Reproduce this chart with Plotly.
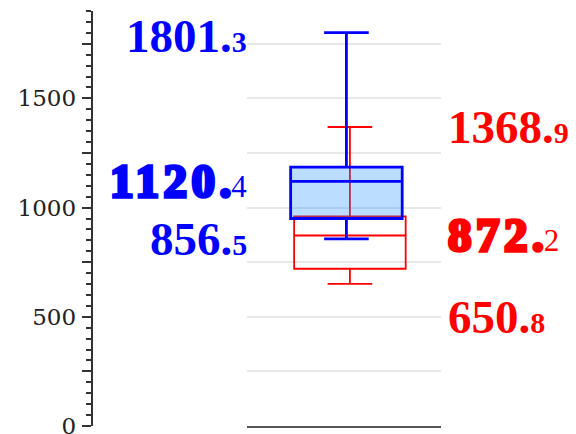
import plotly.graph_objects as go

# ---- data ----
series_names = ["A", "B"]
lowerfence = [856.5, 650.8]
q1 = [950.0, 720.0]
median = [1120.4, 872.2]
q3 = [1185.0, 960.0]
upperfence = [1801.3, 1368.9]
colors = ["#0000ff", "#ff0000"]
fills = ["rgba(30,144,255,0.3)", "rgba(0,0,0,0)"]

tick_vals = [0, 250, 500, 750, 1000, 1250, 1500, 1750]
tick_text = ["0", "", "500", "", "1000", "", "1500", ""]
y_range = [0, 1900]

# ---- layout constants ----
W, H = 576, 434
plot_left, plot_right = 246.7, 440.7
box_pos = [0.014, 0.032]
line_widths = [2.8, 1.8]

fig = go.Figure()
# draw red first, blue on top
for i in [1, 0]:
    fig.add_trace(go.Box(
        x=[box_pos[i]],
        lowerfence=[lowerfence[i]], q1=[q1[i]], median=[median[i]],
        q3=[q3[i]], upperfence=[upperfence[i]],
        width=0.575, whiskerwidth=0.4,
        line=dict(color=colors[i], width=line_widths[i]),
        fillcolor=fills[i], name=series_names[i], showlegend=False,
        hoverinfo="skip",
    ))

# invisible trace to carry the free-standing left axis
fig.add_trace(go.Scatter(x=[None], y=[None], yaxis="y2", showlegend=False, hoverinfo="skip"))

def label(v, is_median, color):
    ip, dp = f"{v:.1f}".split(".")
    if is_median:
        return (f"<span style='stroke:{color};stroke-width:3.5px;letter-spacing:4.5px'>{ip}</span>"
                f"<span style='stroke:{color};stroke-width:3.5px'>.</span>"
                f"<span style='font-size:31px;font-weight:normal'>{dp}</span>")
    return f"{ip}.<span style='font-size:30px'>{dp}</span>"

annots = []
sides = [
    (0, "right", plot_left + 2, [(upperfence[0], False, -3.5), (median[0], True, 0), (lowerfence[0], False, 0)]),
    (1, "left", plot_right + 5, [(upperfence[1], False, 0), (median[1], True, 0), (lowerfence[1], False, -33.5)]),
]
for i, anchor, xpx, items in sides:
    for v, med, ys in items:
        annots.append(dict(
            x=xpx / W, xref="paper", y=v, yref="y", xanchor=anchor, yanchor="middle",
            yshift=ys, showarrow=False, text=label(v, med, colors[i]),
            font=dict(family="Liberation Serif", size=47, color=colors[i], weight="bold"),
        ))

fig.update_layout(
    width=W, height=H,
    margin=dict(l=0, r=0, t=11, b=8),
    plot_bgcolor="white", paper_bgcolor="white",
    boxmode="overlay",
    xaxis=dict(domain=[plot_left / W, plot_right / W], range=[-0.5, 0.5],
               showticklabels=False, ticks="", showgrid=False, zeroline=False,
               showline=True, linecolor="#555555", linewidth=2),
    yaxis=dict(range=y_range, tickvals=tick_vals[1:], showticklabels=False, ticks="",
               showgrid=True, gridcolor="#e8e8e8", gridwidth=1.5, zeroline=False, showline=False),
    yaxis2=dict(range=y_range, overlaying="y", anchor="free", position=91.7 / W, side="left",
                tickvals=tick_vals, ticktext=tick_text, ticks="outside", ticklen=9, tickwidth=2,
                tickcolor="#333333", showline=True, linecolor="#333333", linewidth=2,
                showgrid=False, zeroline=False, ticklabelstandoff=1, ticklabeloverflow="allow",
                tickfont=dict(family="DejaVu Serif", size=23, color="#222222"),
                minor=dict(tickmode="linear", tick0=0, dtick=50, ticks="outside", ticklen=5,
                           tickwidth=1.5, tickcolor="#333333", showgrid=False),
                automargin=False),
    annotations=annots,
)

fig.write_html("out.html", config={"displayModeBar": False},
               post_script="document.body.style.margin='0';")
